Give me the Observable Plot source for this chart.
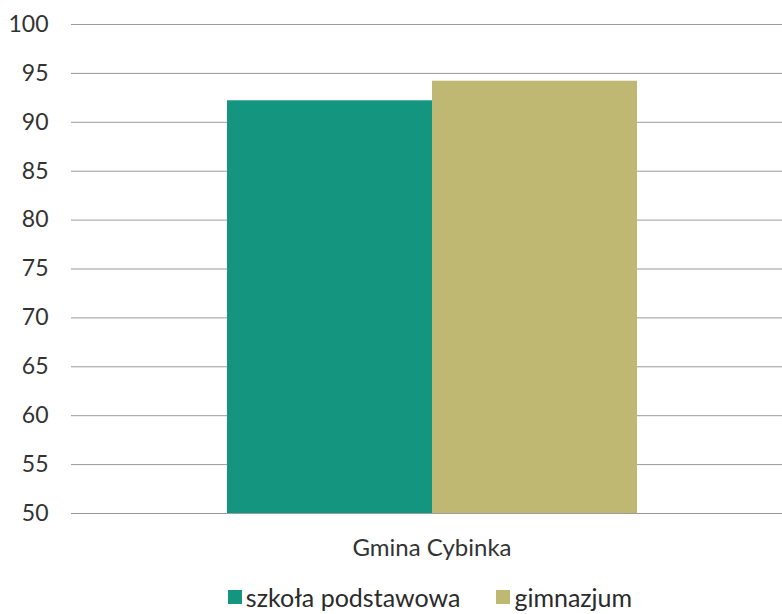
<!DOCTYPE html>
<html>
<head>
<meta charset="utf-8">
<script src="https://cdn.jsdelivr.net/npm/d3@7"></script>
<script src="https://cdn.jsdelivr.net/npm/@observablehq/plot@0.6"></script>
<style>
  body { margin: 0; background: #fff; font-family: Lato, "Open Sans", sans-serif; color: #333; overflow: hidden; }
  #legend { display: flex; justify-content: center; align-items: center; padding-left: 78px; height: 30px; line-height: 30px; font-size: 25px; color: #2b2b2b; margin-top: 7px; }
  .item { display: flex; align-items: center; margin: 0 18px; }
  .sw { width: 14px; height: 14px; margin-right: 4px; display: inline-block; }
</style>
</head>
<body>
<div id="chart"></div>
<div id="legend"></div>
<script>
const categories = ["Gmina Cybinka"];
const series = ["szkoła podstawowa", "gimnazjum"];
const values = [92.2, 94.2];
const colors = ["#13957f", "#bfb873"];
const yTicks = [50, 55, 60, 65, 70, 75, 80, 85, 90, 95, 100];

const data = series.map((s, i) => ({cat: categories[0], series: s, value: values[i]}));

const chart = Plot.plot({
  width: 782,
  height: 575,
  marginTop: 24,
  marginBottom: 62,
  marginLeft: 71,
  marginRight: 0,
  style: { fontFamily: "Lato, 'Open Sans', sans-serif", fontSize: "23px", color: "#333", background: "#fff" },
  fx: { domain: categories, paddingInner: 0, paddingOuter: 0, label: null, axis: null },
  x: { domain: series, paddingInner: 0, paddingOuter: 0.73, align: 0.517, axis: null },
  y: { domain: [50, 100], ticks: yTicks, label: null },
  color: { domain: series, range: colors },
  marks: [
    Plot.gridY(yTicks, { stroke: "#9a9a9a", strokeOpacity: 1, strokeWidth: 1 }),
    Plot.axisY(yTicks, { tickSize: 0, tickPadding: 23, fontSize: 23, fill: "#333" }),
    Plot.barY(data, { fx: "cat", x: "series", y1: 50, y2: "value", fill: "series" }),
    Plot.ruleX([0], { frameAnchor: "left", stroke: "#9a9a9a" }),
    Plot.axisFx(categories, { anchor: "bottom", tickSize: 0, tickPadding: 25, fontSize: 24, fill: "#333", label: null, dx: 5 })
  ]
});
document.getElementById("chart").appendChild(chart);

const legend = document.getElementById("legend");
series.forEach((s, i) => {
  const item = document.createElement("div");
  item.className = "item";
  const sw = document.createElement("span");
  sw.className = "sw";
  sw.style.background = colors[i];
  const t = document.createElement("span");
  t.textContent = s;
  item.appendChild(sw);
  item.appendChild(t);
  legend.appendChild(item);
});
</script>
</body>
</html>
